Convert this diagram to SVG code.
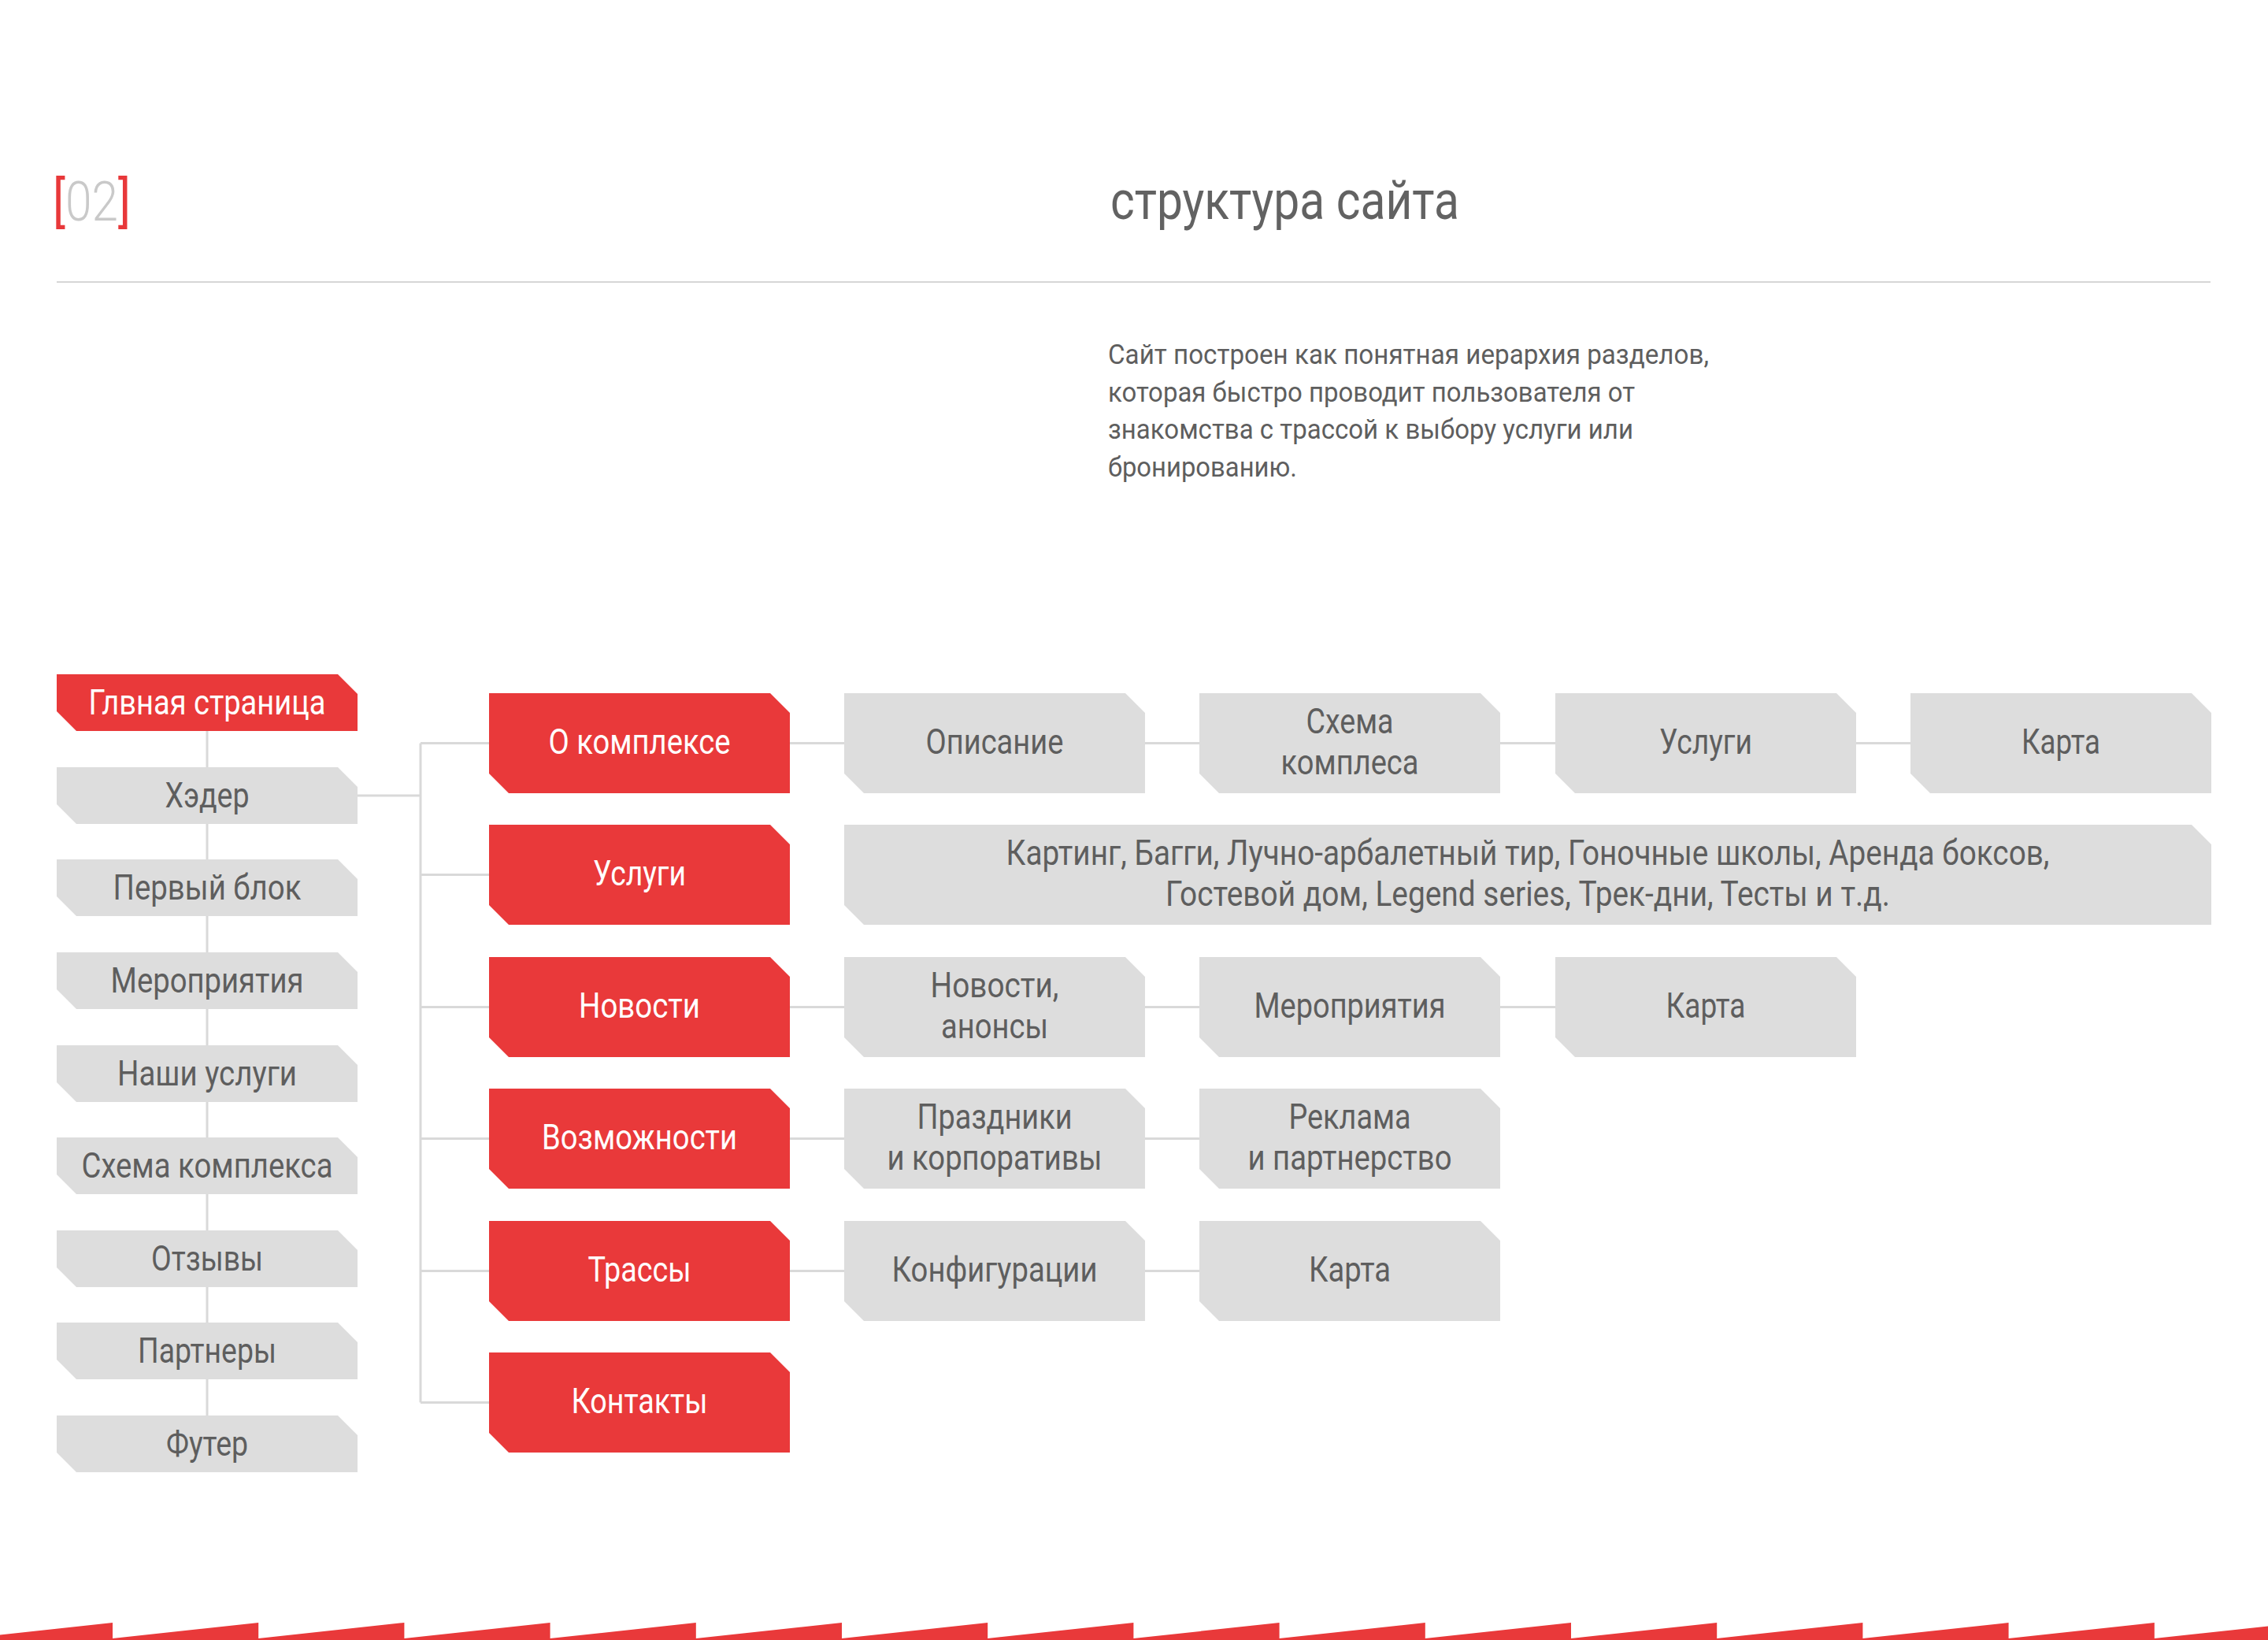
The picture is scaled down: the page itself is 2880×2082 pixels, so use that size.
<svg xmlns="http://www.w3.org/2000/svg" width="2880" height="2082" viewBox="0 0 2880 2082">
<style>
.bg{fill:#ffffff}
.red{fill:#e9393a}
.grey{fill:#dddddd}
.t{font-family:Roboto,"Noto Sans","Liberation Sans",sans-serif;font-size:44px;text-anchor:middle;fill:#5e5e5e}
.tw{fill:#ffffff}
.conn{stroke:#d9d9d9;stroke-width:3;fill:none}
.para{font-family:Roboto,"Noto Sans","Liberation Sans",sans-serif;font-size:35px;fill:#5e5e5e}
.title{font-family:Roboto,"Noto Sans","Liberation Sans",sans-serif;font-size:68px;fill:#626262}
.num{font-family:Roboto,"Noto Sans","Liberation Sans",sans-serif;font-size:70px}
</style>
<rect class="bg" x="0" y="0" width="2880" height="2082"/>

<g id="header">
<text class="num" x="67" y="280" textLength="99" lengthAdjust="spacingAndGlyphs"><tspan fill="#e8383a">[</tspan><tspan fill="#c9c9c9" font-weight="300">02</tspan><tspan fill="#e8383a">]</tspan></text>
<text class="title" x="1410" y="278" textLength="443" lengthAdjust="spacingAndGlyphs">структура сайта</text>
<line x1="72" y1="358" x2="2807" y2="358" stroke="#d6d6d6" stroke-width="2"/>
<text class="para" x="1407" y="462" textLength="763" lengthAdjust="spacingAndGlyphs">Сайт построен как понятная иерархия разделов,</text>
<text class="para" x="1407" y="510" textLength="669" lengthAdjust="spacingAndGlyphs">которая быстро проводит пользователя от</text>
<text class="para" x="1407" y="557" textLength="667" lengthAdjust="spacingAndGlyphs">знакомства с трассой к выбору услуги или</text>
<text class="para" x="1407" y="605" textLength="240" lengthAdjust="spacingAndGlyphs">бронированию.</text>
</g>

<g id="connectors" class="conn">
<path d="M263,928 V1797"/>
<path d="M454,1010 H534"/>
<path d="M534,943.5 V1780.5"/>
<path d="M534,943.5 H621"/>
<path d="M534,1110.5 H621"/>
<path d="M534,1278.5 H621"/>
<path d="M534,1445.5 H621"/>
<path d="M534,1613.5 H621"/>
<path d="M534,1780.5 H621"/>
<path d="M1003,943.5 H2426"/>
<path d="M1003,1278.5 H1975"/>
<path d="M1003,1445.5 H1523"/>
<path d="M1003,1613.5 H1523"/>
</g>

<g id="main-page">
<path class="red" d="M72,856 H429 L454,881 V928 H97 L72,903 Z"/>
<text class="t tw" x="263" y="907" textLength="301" lengthAdjust="spacingAndGlyphs">Глвная страница</text>
</g>
<g id="header-block">
<path class="grey" d="M72,974 H429 L454,999 V1046 H97 L72,1021 Z"/>
<text class="t" x="263" y="1025" textLength="107" lengthAdjust="spacingAndGlyphs">Хэдер</text>
</g>
<g id="first-block">
<path class="grey" d="M72,1091 H429 L454,1116 V1163 H97 L72,1138 Z"/>
<text class="t" x="263" y="1142" textLength="239" lengthAdjust="spacingAndGlyphs">Первый блок</text>
</g>
<g id="events-block">
<path class="grey" d="M72,1209 H429 L454,1234 V1281 H97 L72,1256 Z"/>
<text class="t" x="263" y="1260" textLength="245" lengthAdjust="spacingAndGlyphs">Мероприятия</text>
</g>
<g id="services-block">
<path class="grey" d="M72,1327 H429 L454,1352 V1399 H97 L72,1374 Z"/>
<text class="t" x="263" y="1378" textLength="228" lengthAdjust="spacingAndGlyphs">Наши услуги</text>
</g>
<g id="scheme-block">
<path class="grey" d="M72,1444 H429 L454,1469 V1516 H97 L72,1491 Z"/>
<text class="t" x="263" y="1495" textLength="319" lengthAdjust="spacingAndGlyphs">Схема комплекса</text>
</g>
<g id="reviews-block">
<path class="grey" d="M72,1562 H429 L454,1587 V1634 H97 L72,1609 Z"/>
<text class="t" x="263" y="1613" textLength="142" lengthAdjust="spacingAndGlyphs">Отзывы</text>
</g>
<g id="partners-block">
<path class="grey" d="M72,1679 H429 L454,1704 V1751 H97 L72,1726 Z"/>
<text class="t" x="263" y="1730" textLength="176" lengthAdjust="spacingAndGlyphs">Партнеры</text>
</g>
<g id="footer-block">
<path class="grey" d="M72,1797 H429 L454,1822 V1869 H97 L72,1844 Z"/>
<text class="t" x="263" y="1848" textLength="104" lengthAdjust="spacingAndGlyphs">Футер</text>
</g>

<g id="about">
<path class="red" d="M621,880 H978 L1003,905 V1007 H646 L621,982 Z"/>
<text class="t tw" x="812" y="957" textLength="231" lengthAdjust="spacingAndGlyphs">О комплексе</text>
</g>
<g id="services">
<path class="red" d="M621,1047 H978 L1003,1072 V1174 H646 L621,1149 Z"/>
<text class="t tw" x="812" y="1124" textLength="118" lengthAdjust="spacingAndGlyphs">Услуги</text>
</g>
<g id="news">
<path class="red" d="M621,1215 H978 L1003,1240 V1342 H646 L621,1317 Z"/>
<text class="t tw" x="812" y="1292" textLength="154" lengthAdjust="spacingAndGlyphs">Новости</text>
</g>
<g id="features">
<path class="red" d="M621,1382 H978 L1003,1407 V1509 H646 L621,1484 Z"/>
<text class="t tw" x="812" y="1459" textLength="248" lengthAdjust="spacingAndGlyphs">Возможности</text>
</g>
<g id="tracks">
<path class="red" d="M621,1550 H978 L1003,1575 V1677 H646 L621,1652 Z"/>
<text class="t tw" x="812" y="1627" textLength="131" lengthAdjust="spacingAndGlyphs">Трассы</text>
</g>
<g id="contacts">
<path class="red" d="M621,1717 H978 L1003,1742 V1844 H646 L621,1819 Z"/>
<text class="t tw" x="812" y="1794" textLength="173" lengthAdjust="spacingAndGlyphs">Контакты</text>
</g>

<g id="about-description">
<path class="grey" d="M1072,880 H1429 L1454,905 V1007 H1097 L1072,982 Z"/>
<text class="t" x="1263" y="957" textLength="175" lengthAdjust="spacingAndGlyphs">Описание</text>
</g>
<g id="about-scheme">
<path class="grey" d="M1523,880 H1880 L1905,905 V1007 H1548 L1523,982 Z"/>
<text class="t" x="1714" y="931" textLength="111" lengthAdjust="spacingAndGlyphs">Схема</text>
<text class="t" x="1714" y="983" textLength="175" lengthAdjust="spacingAndGlyphs">комплеса</text>
</g>
<g id="about-services">
<path class="grey" d="M1975,880 H2332 L2357,905 V1007 H2000 L1975,982 Z"/>
<text class="t" x="2166" y="957" textLength="118" lengthAdjust="spacingAndGlyphs">Услуги</text>
</g>
<g id="about-map">
<path class="grey" d="M2426,880 H2783 L2808,905 V1007 H2451 L2426,982 Z"/>
<text class="t" x="2617" y="957" textLength="100" lengthAdjust="spacingAndGlyphs">Карта</text>
</g>

<g id="services-list">
<path class="grey" d="M1072,1047 H2783 L2808,1072 V1174 H1097 L1072,1149 Z"/>
<text class="t" x="1940" y="1098" textLength="1325" lengthAdjust="spacingAndGlyphs">Картинг, Багги, Лучно-арбалетный тир, Гоночные школы, Аренда боксов,</text>
<text class="t" x="1940" y="1150" textLength="920" lengthAdjust="spacingAndGlyphs">Гостевой дом, Legend series, Трек-дни, Тесты и т.д.</text>
</g>

<g id="news-announcements">
<path class="grey" d="M1072,1215 H1429 L1454,1240 V1342 H1097 L1072,1317 Z"/>
<text class="t" x="1263" y="1266" textLength="163" lengthAdjust="spacingAndGlyphs">Новости,</text>
<text class="t" x="1263" y="1318" textLength="136" lengthAdjust="spacingAndGlyphs">анонсы</text>
</g>
<g id="news-events">
<path class="grey" d="M1523,1215 H1880 L1905,1240 V1342 H1548 L1523,1317 Z"/>
<text class="t" x="1714" y="1292" textLength="243" lengthAdjust="spacingAndGlyphs">Мероприятия</text>
</g>
<g id="news-map">
<path class="grey" d="M1975,1215 H2332 L2357,1240 V1342 H2000 L1975,1317 Z"/>
<text class="t" x="2166" y="1292" textLength="101" lengthAdjust="spacingAndGlyphs">Карта</text>
</g>

<g id="features-holidays">
<path class="grey" d="M1072,1382 H1429 L1454,1407 V1509 H1097 L1072,1484 Z"/>
<text class="t" x="1263" y="1433" textLength="197" lengthAdjust="spacingAndGlyphs">Праздники</text>
<text class="t" x="1263" y="1485" textLength="273" lengthAdjust="spacingAndGlyphs">и корпоративы</text>
</g>
<g id="features-ads">
<path class="grey" d="M1523,1382 H1880 L1905,1407 V1509 H1548 L1523,1484 Z"/>
<text class="t" x="1714" y="1433" textLength="155" lengthAdjust="spacingAndGlyphs">Реклама</text>
<text class="t" x="1714" y="1485" textLength="259" lengthAdjust="spacingAndGlyphs">и партнерство</text>
</g>

<g id="tracks-configs">
<path class="grey" d="M1072,1550 H1429 L1454,1575 V1677 H1097 L1072,1652 Z"/>
<text class="t" x="1263" y="1627" textLength="261" lengthAdjust="spacingAndGlyphs">Конфигурации</text>
</g>
<g id="tracks-map">
<path class="grey" d="M1523,1550 H1880 L1905,1575 V1677 H1548 L1523,1652 Z"/>
<text class="t" x="1714" y="1627" textLength="104" lengthAdjust="spacingAndGlyphs">Карта</text>
</g>

<path id="sawtooth" class="red" d="M0,2082 V2075.4 L143,2060 V2080 L328.2,2060 V2080 L513.4,2060 V2080 L698.6,2060 V2080 L883.8,2060 V2080 L1069,2060 V2080 L1254.2,2060 V2080 L1439.4,2060 V2080 L1624.6,2060 V2080 L1809.8,2060 V2080 L1995,2060 V2080 L2180.2,2060 V2080 L2365.4,2060 V2080 L2550.6,2060 V2080 L2735.8,2060 V2080 L2880,2064.4 V2082 Z"/>
</svg>
